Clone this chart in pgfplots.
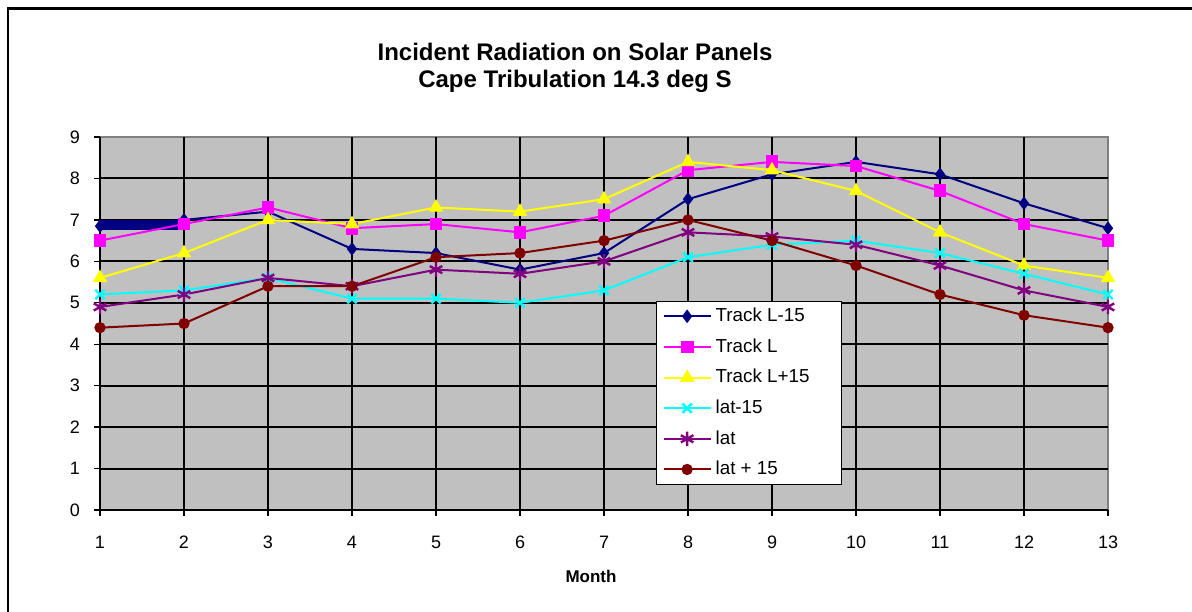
\documentclass[border=0pt]{standalone}
\usepackage{pgfplots}
\pgfplotsset{compat=1.18}
\usepackage{fontspec}
\setmainfont{Liberation Sans}
\definecolor{bgray}{RGB}{192,192,192}
\definecolor{cnavy}{RGB}{0,0,128}
\definecolor{cmag}{RGB}{255,0,255}
\definecolor{cyel}{RGB}{255,255,0}
\definecolor{ccyan}{RGB}{0,255,255}
\definecolor{cpurp}{RGB}{128,0,128}
\definecolor{cdred}{RGB}{128,0,0}
\begin{document}
\begin{tikzpicture}
\useasboundingbox (0,0) rectangle (596pt,-305.5pt);
% outer chart frame (right and bottom edges fall outside the image)
\draw[line width=1.2pt] (4pt,-330pt) -- (4pt,-4.3pt) -- (640pt,-4.3pt);
\node[anchor=base,font=\fontsize{12}{14}\selectfont\bfseries] at (287.5pt,-30.35pt) {Incident Radiation on Solar Panels};
\node[anchor=base,font=\fontsize{12}{14}\selectfont\bfseries] at (287.5pt,-43.65pt) {Cape Tribulation 14.3 deg S};
\node[anchor=base,font=\fontsize{8.5}{10}\selectfont\bfseries] at (295.5pt,-291pt) {Month};
\begin{axis}[
    at={(50pt,-255pt)}, anchor=south west,
    scale only axis, width=504pt, height=186.5pt,
    xmin=1, xmax=13, ymin=0, ymax=9,
    xtick={1,...,12}, extra x ticks={13}, extra x tick style={grid=none},
    ytick={0,...,8}, extra y ticks={9}, extra y tick style={grid=none},
    axis x line*=bottom, axis y line*=left,
    x axis line style={-, line width=1pt},
    y axis line style={-, line width=1pt},
    axis background/.style={fill=bgray, draw=gray, line width=0.6pt},
    grid=major, major grid style={black, line width=1pt},
    tick align=outside, major tick length=3pt,
    tick style={black, line width=0.7pt},
    /pgf/number format/assume math mode=true,
    ticklabel style={font=\fontsize{9}{10}\selectfont},
    xticklabel style={yshift=-6.5pt},
    yticklabel style={xshift=-3.5pt},
    legend style={at={(0.5516,0.5603)}, anchor=north west, draw=black,
        line width=0.6pt, fill=white, font=\fontsize{9.4}{11}\selectfont,
        row sep=3.0pt, inner xsep=3pt, inner ysep=1.2pt},
    legend cell align=left,
    legend image code/.code={\draw[mark repeat=2,mark phase=2]
        plot coordinates {(0pt,0pt) (11.75pt,0pt) (23.5pt,0pt)};},
    every axis plot/.append style={line width=1pt},
]
% the heavy stroke Excel drew under the first segment
\addplot[cnavy, line width=5pt, forget plot] coordinates {(1,6.87) (1.96,6.87)};
\addplot[cnavy, mark=diamond*, mark size=2.6pt, mark options={fill=cnavy}] coordinates {
 (1,6.85) (2,7.0) (3,7.2) (4,6.3) (5,6.2) (6,5.8) (7,6.2) (8,7.5) (9,8.1) (10,8.4) (11,8.1) (12,7.4) (13,6.8)};
\addlegendentry{\makebox[58pt][l]{Track L-15}}
\addplot[cmag, mark=square*, mark size=2.7pt, mark options={fill=cmag}] coordinates {
 (1,6.5) (2,6.9) (3,7.3) (4,6.8) (5,6.9) (6,6.7) (7,7.1) (8,8.2) (9,8.4) (10,8.3) (11,7.7) (12,6.9) (13,6.5)};
\addlegendentry{Track L}
\addplot[cyel, mark=triangle*, mark size=3.2pt, mark options={fill=cyel}] coordinates {
 (1,5.6) (2,6.2) (3,7.0) (4,6.9) (5,7.3) (6,7.2) (7,7.5) (8,8.4) (9,8.2) (10,7.7) (11,6.7) (12,5.9) (13,5.6)};
\addlegendentry{Track L+15}
\addplot[ccyan, mark=x, mark size=3.3pt, mark options={line width=1.2pt}] coordinates {
 (1,5.2) (2,5.3) (3,5.6) (4,5.1) (5,5.1) (6,5.0) (7,5.3) (8,6.1) (9,6.4) (10,6.5) (11,6.2) (12,5.7) (13,5.2)};
\addlegendentry{lat-15}
\addplot[cpurp, mark=asterisk, mark size=3.6pt, mark options={line width=1.2pt}] coordinates {
 (1,4.9) (2,5.2) (3,5.6) (4,5.4) (5,5.8) (6,5.7) (7,6.0) (8,6.7) (9,6.6) (10,6.4) (11,5.9) (12,5.3) (13,4.9)};
\addlegendentry{lat}
\addplot[cdred, mark=*, mark size=2.3pt, mark options={fill=cdred}] coordinates {
 (1,4.4) (2,4.5) (3,5.4) (4,5.4) (5,6.1) (6,6.2) (7,6.5) (8,7.0) (9,6.5) (10,5.9) (11,5.2) (12,4.7) (13,4.4)};
\addlegendentry{lat + 15}
\end{axis}
\end{tikzpicture}
\end{document}
